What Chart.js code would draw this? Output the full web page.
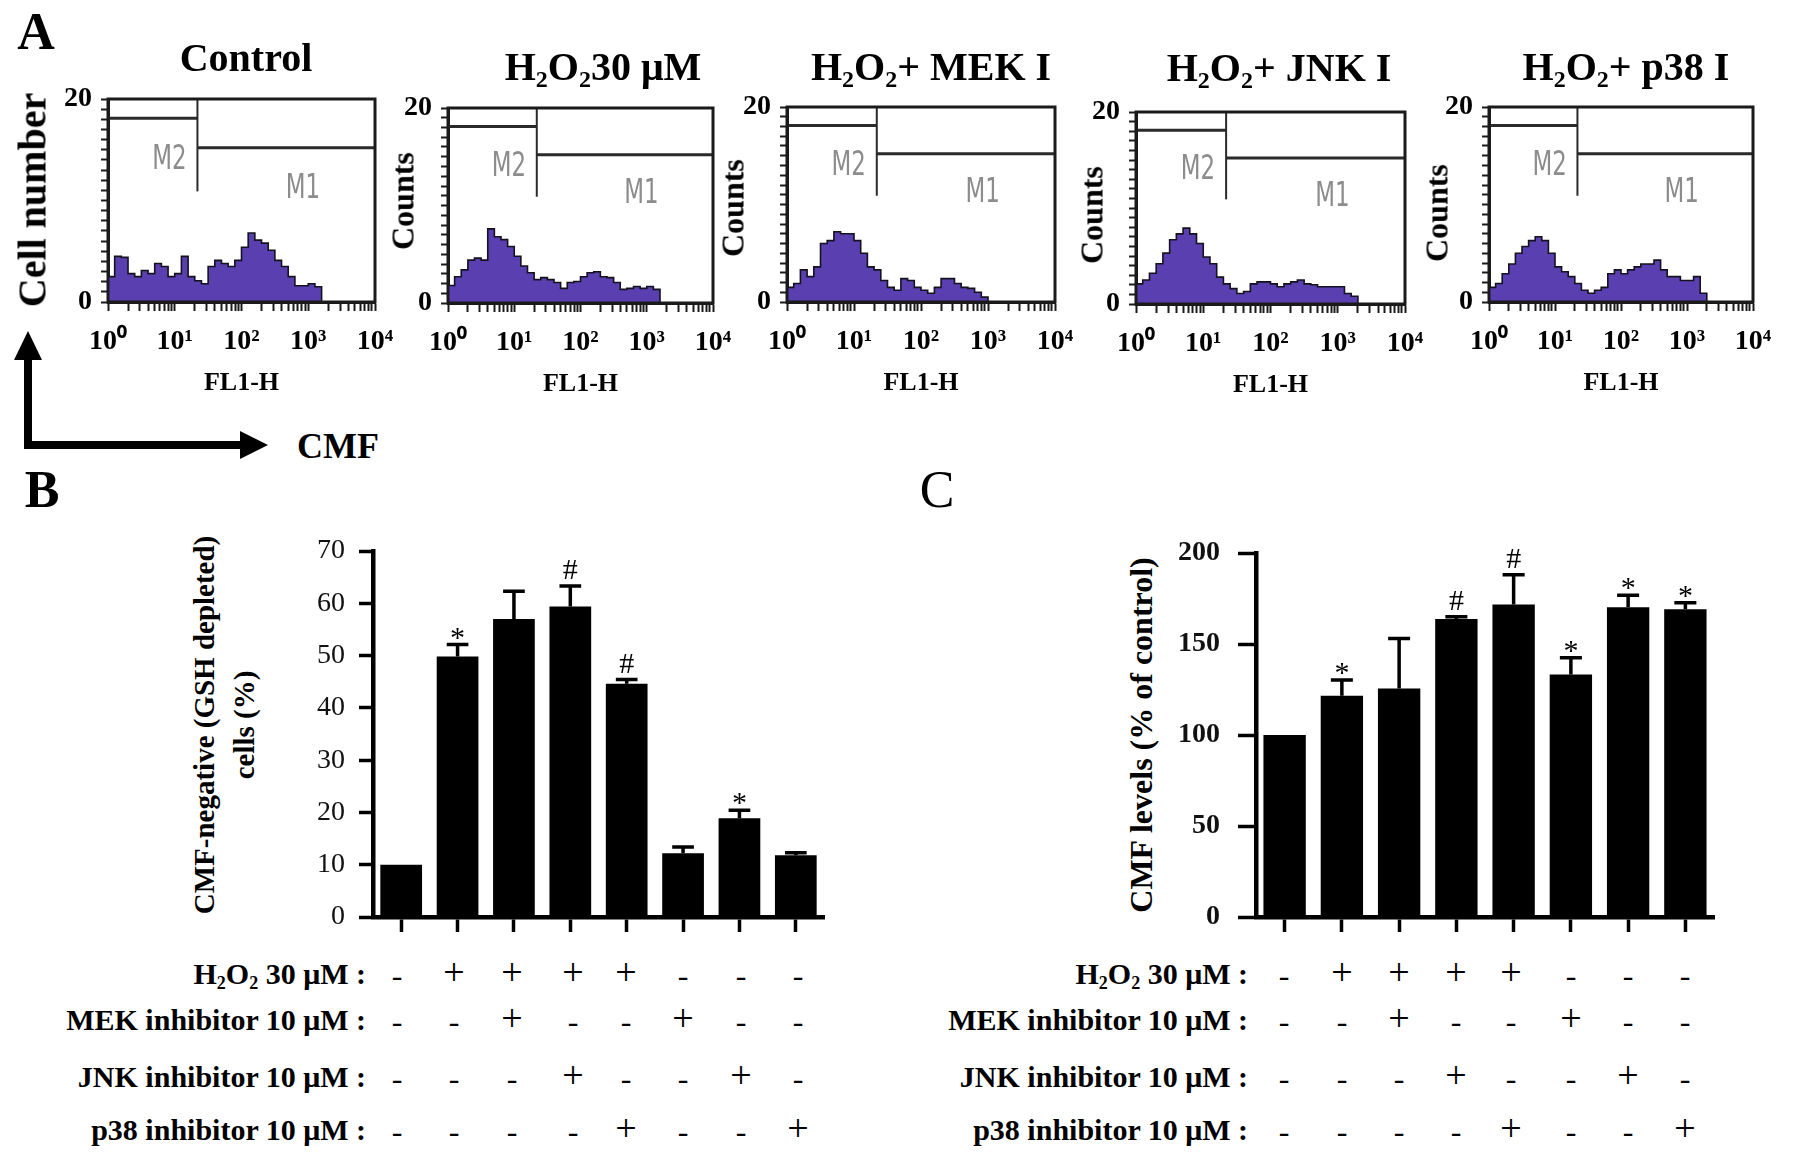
<!DOCTYPE html>
<html>
<head>
<meta charset="utf-8">
<script src="https://cdn.jsdelivr.net/npm/chart.js@4.4.1/dist/chart.umd.min.js"></script>
<style>
  html, body { margin:0; padding:0; background:#fff; }
  body { width:1795px; height:1162px; position:relative; overflow:hidden;
         font-family:"Liberation Serif","Times New Roman",serif; color:#000; }
  canvas { position:absolute; }
  .t { position:absolute; white-space:nowrap; line-height:1; }
  sub { font-size:0.6em; vertical-align:-0.3em; line-height:0; }
</style>
</head>
<body>
<svg style="position:absolute;left:0;top:0" width="300" height="470">
  <line x1="28" y1="352" x2="28" y2="449" stroke="#000" stroke-width="8"/>
  <polygon points="28,331 14,360 42,360" fill="#000"/>
  <line x1="24" y1="445" x2="244" y2="445" stroke="#000" stroke-width="8"/>
  <polygon points="268,445 240,431 240,459" fill="#000"/>
</svg>
<script>
// ---------------- DATA ----------------
// Panel A: flow-cytometry histograms (FL1-H, log decades 0..4, bins of 0.1 decade)
const binDecades = [0,0.1,0.2,0.3,0.4,0.5,0.6,0.7,0.8,0.9,1.0,1.1,1.2,1.3,1.4,1.5,1.6,1.7,1.8,1.9,2.0,
                    2.1,2.2,2.3,2.4,2.5,2.6,2.7,2.8,2.9,3.0,3.1,3.2,3.3,3.4,3.5,3.6,3.7,3.8,3.9,4.0];
const histControl = [1.5,2.5,4.5,4.4,2.8,2.5,3.1,2.8,3.8,3.5,2.5,2.8,4.5,2.5,2.1,1.8,3.5,4.1,3.8,3.5,4.1,
                     5.4,6.8,6.1,5.8,5.1,4.1,3.5,2.5,1.6,1.6,1.8,1.5,0,0,0,0,0,0,0,0];
const histH2O2    = [2.4,1.8,2.7,3.4,4.4,4.6,4.4,7.6,6.8,6.5,5.8,4.8,3.8,3.1,2.4,2.6,2.4,2.1,1.5,2.1,2.2,
                     2.7,3.1,3.2,2.7,2.6,2.1,1.4,1.5,1.7,1.5,1.7,1.4,0,0,0,0,0,0,0,0];
const histMEK     = [2.2,1.5,1.9,3.3,2.6,3.6,6.0,6.3,7.2,7.0,7.0,6.3,5.0,3.6,3.3,2.2,1.5,1.2,2.4,2.2,1.5,
                     1.2,0.9,1.5,2.4,2.4,1.9,1.5,1.4,1.0,0.5,0,0,0,0,0,0,0,0,0,0];
const histJNK     = [1.8,2.1,2.5,3.2,4.2,5.3,6.7,7.3,7.9,7.3,6.3,4.9,4.2,2.8,2.1,1.6,1.1,1.3,2.1,2.3,2.3,
                     2.1,1.8,2.1,2.3,2.5,2.1,2.0,1.8,1.8,1.8,1.8,1.1,0.8,0,0,0,0,0,0,0];
const histP38     = [1.2,1.5,1.9,2.9,3.9,5.0,5.7,6.3,6.7,6.3,5.0,3.6,3.1,2.6,1.9,1.2,0.9,1.2,1.5,2.9,3.3,
                     2.9,3.3,3.6,3.9,3.9,4.3,3.3,2.6,2.6,2.2,2.2,2.6,0.9,0,0,0,0,0,0,0];
const histTitles  = ['Control','H<sub>2</sub>O<sub>2</sub>30 μM','H<sub>2</sub>O<sub>2</sub>+ MEK I',
                     'H<sub>2</sub>O<sub>2</sub>+ JNK I','H<sub>2</sub>O<sub>2</sub>+ p38 I'];
const histYTitles = ['Cell number','Counts','Counts','Counts','Counts'];
const histDecadeTicks = ['10⁰','10¹','10²','10³','10⁴'];
const histYTickLabels = [0, 20];
// gate markers: [start decade, end decade, count level]
const gateM2 = [0, 1.34, 18.1];
const gateM1 = [1.34, 4, 15.2];
const gateDividerBottom = [10.9];
const gateNames = ['M2','M1'];

// Panels B and C: bar charts
const conditions = ['Control','H2O2','H2O2+MEK I','H2O2+JNK I','H2O2+p38 I','MEK I','JNK I','p38 I'];
const gshDepleted    = [10.0, 49.8, 57.0, 59.4, 44.6, 12.2, 18.9, 11.8];
const gshDepletedErr = [0,    2.3,  5.3,  3.9,  0.8,  1.2,  1.5,  0.5];
const gshMarks       = ['',  '*',  '',   '#',  '#',  '',   '*',  ''];
const gshTicks       = [0,10,20,30,40,50,60,70];
const cmfLevels      = [100, 121.6, 125.5, 163.8, 171.7, 133.3, 170.2, 169.1];
const cmfLevelsErr   = [0,   8.6,   27.5,  1.2,   16.3,  9.2,   6.6,   3.5];
const cmfMarks       = ['',  '*',   '',    '#',   '#',   '*',   '*',   '*'];
const cmfTicks       = [0,50,100,150,200];

// treatment table
const rowLabels = ['H<sub>2</sub>O<sub>2</sub> 30 μM :','MEK inhibitor 10 μM :','JNK inhibitor 10 μM :','p38 inhibitor 10 μM :'];
const rowH2O2 = ['-','+','+','+','+','-','-','-'];
const rowMEK  = ['-','-','+','-','-','+','-','-'];
const rowJNK  = ['-','-','-','+','-','-','+','-'];
const rowP38  = ['-','-','-','-','+','-','-','+'];

// ---------------- HELPERS ----------------
const SERIF = '"Liberation Serif","Times New Roman",serif';
function place(html, x, y, css, mode) {
  const d = document.createElement('div');
  d.className = 't';
  d.innerHTML = html;
  d.style.cssText += css;
  if (mode === 'right') {
    d.style.right = (1795 - x) + 'px'; d.style.top = y + 'px';
    d.style.transform = 'translateY(-50%)';
  } else if (mode === 'rot') {
    d.style.left = x + 'px'; d.style.top = y + 'px';
    d.style.transform = 'translate(-50%,-50%) rotate(-90deg)';
  } else {
    d.style.left = x + 'px'; d.style.top = y + 'px';
    d.style.transform = 'translate(-50%,-50%)';
  }
  document.body.appendChild(d);
  return d;
}
function makeCanvas(left, top, w, h) {
  const c = document.createElement('canvas');
  c.width = w; c.height = h;
  c.style.left = left + 'px'; c.style.top = top + 'px';
  c.style.width = w + 'px'; c.style.height = h + 'px';
  document.body.appendChild(c);
  return c;
}

// panel letters
place('A', 36, 31, 'font:bold 52px ' + SERIF + ';');
place('B', 42, 489, 'font:bold 52px ' + SERIF + ';');
place('C', 937, 489, 'font:52px ' + SERIF + ';');
place('CMF', 338, 446, 'font:bold 36px ' + SERIF + ';');

// ---------------- PANEL A ----------------
const histSets = [histControl, histH2O2, histMEK, histJNK, histP38];
const plotBoxes = [[108,99,375,302],[448,108,713,303],[787,107,1055,302],[1136,112,1405,304],[1489,107,1753,302]];
const titleY = [57,66,66,67,66];
const yTitleX = [32,403,733,1092,1437];
const yTitleY = [200,201,208,215,213];

const logTickPositions = [];
for (let d = 0; d <= 4; d++) {
  logTickPositions.push(d);
  if (d < 4) for (let k = 2; k <= 9; k++) logTickPositions.push(d + Math.log10(k));
}

const framePlugin = {
  id: 'frame',
  afterDraw(chart) {
    const {ctx, chartArea: a} = chart;
    ctx.save();
    ctx.strokeStyle = '#1a1a1a'; ctx.lineWidth = 3;
    ctx.strokeRect(a.left, a.top, a.right - a.left, a.bottom - a.top);
    ctx.restore();
  }
};
const gatePlugin = {
  id: 'gates',
  afterDatasetsDraw(chart) {
    const {ctx} = chart, xs = chart.scales.x, ys = chart.scales.y;
    ctx.save();
    ctx.strokeStyle = '#2a2a2a'; ctx.lineWidth = 3;
    ctx.beginPath();
    ctx.moveTo(xs.getPixelForValue(gateM2[0]), ys.getPixelForValue(gateM2[2]));
    ctx.lineTo(xs.getPixelForValue(gateM2[1]), ys.getPixelForValue(gateM2[2]));
    ctx.moveTo(xs.getPixelForValue(gateM1[0]), ys.getPixelForValue(gateM1[2]));
    ctx.lineTo(xs.getPixelForValue(gateM1[1]), ys.getPixelForValue(gateM1[2]));
    ctx.stroke();
    ctx.lineWidth = 2;
    ctx.beginPath();
    ctx.moveTo(xs.getPixelForValue(gateM2[1]), ys.getPixelForValue(20));
    ctx.lineTo(xs.getPixelForValue(gateM2[1]), ys.getPixelForValue(gateDividerBottom[0]));
    ctx.stroke();
    ctx.fillStyle = '#8c8c8c';
    ctx.font = '30px "Liberation Sans Narrow","DejaVu Sans Condensed","Liberation Sans",sans-serif';
    ctx.textAlign = 'center'; ctx.textBaseline = 'middle';
    ctx.save();
    ctx.translate(xs.getPixelForValue(0.92), ys.getPixelForValue(13.9));
    ctx.scale(0.85, 1.1);
    ctx.fillText(gateNames[0], 0, 0);
    ctx.restore();
    ctx.save();
    ctx.translate(xs.getPixelForValue(2.92), ys.getPixelForValue(11.1));
    ctx.scale(0.85, 1.1);
    ctx.fillText(gateNames[1], 0, 0);
    ctx.restore();
    ctx.restore();
  }
};

const AX_L = 80, PAD_T = 20, PAD_R = 34, AX_B = 70;
histSets.forEach((counts, i) => {
  const [L, T, R, B] = plotBoxes[i];
  const w = (R - L) + AX_L + PAD_R, h = (B - T) + PAD_T + AX_B;
  const cv = makeCanvas(L - AX_L, T - PAD_T, w, h);
  new Chart(cv, {
    type: 'line',
    data: { datasets: [{
      data: binDecades.map((b, j) => ({x: b, y: counts[j]})),
      stepped: 'after', fill: 'origin',
      backgroundColor: '#5a3fb0', borderColor: '#15121f', borderWidth: 1.6,
      pointRadius: 0
    }]},
    options: {
      responsive: false, animation: false,
      layout: { padding: { top: PAD_T, right: PAD_R, left: 0, bottom: 0 } },
      plugins: { legend: { display: false }, tooltip: { enabled: false } },
      scales: {
        x: {
          type: 'linear', min: 0, max: 4,
          afterBuildTicks: s => { s.ticks = logTickPositions.map(v => ({value: v})); },
          afterFit: s => { s.height = AX_B; s.paddingLeft = 0; s.paddingRight = 0; },
          ticks: { autoSkip: false, maxRotation: 0, minRotation: 0, padding: 14, color: '#000',
                   font: { family: SERIF, size: 28, weight: 'bold' },
                   callback: v => (Math.abs(v - Math.round(v)) < 1e-9 ? histDecadeTicks[Math.round(v)] : '') },
          grid: { drawOnChartArea: false, tickLength: 9, tickWidth: 2, tickColor: '#1a1a1a' },
          border: { width: 3, color: '#1a1a1a' }
        },
        y: {
          min: 0, max: 20,
          afterFit: s => { s.width = AX_L; s.paddingTop = 0; s.paddingBottom = 0; },
          ticks: { stepSize: 1, autoSkip: false, padding: 9, color: '#000',
                   font: { family: SERIF, size: 28, weight: 'bold' },
                   callback: v => (histYTickLabels.includes(v) ? String(v) : '') },
          grid: { drawOnChartArea: false, tickLength: 7, tickWidth: 2, tickColor: '#1a1a1a' },
          border: { width: 3, color: '#1a1a1a' }
        }
      }
    },
    plugins: [framePlugin, gatePlugin]
  });
  place(histTitles[i], [246,603,931,1279,1626][i], titleY[i], 'font:bold 40px ' + SERIF + ';');
  place(histYTitles[i], yTitleX[i], yTitleY[i], 'font:bold ' + (i === 0 ? 40 : 32) + 'px ' + SERIF + ';', 'rot');
  place('FL1-H', (L + R) / 2, B + 80, 'font:bold 26px ' + SERIF + ';');
});

// ---------------- PANELS B, C ----------------
function errorPlugin(errs, marks) {
  return {
    id: 'errbars',
    afterDatasetsDraw(chart) {
      const {ctx} = chart, ys = chart.scales.y;
      const meta = chart.getDatasetMeta(0);
      const vals = chart.data.datasets[0].data;
      ctx.save();
      ctx.strokeStyle = '#000'; ctx.lineWidth = 3.5;
      meta.data.forEach((bar, i) => {
        const topY = ys.getPixelForValue(vals[i] + errs[i]);
        if (errs[i] > 0) {
          const cap = bar.width * 0.26;
          ctx.beginPath();
          ctx.moveTo(bar.x, bar.y); ctx.lineTo(bar.x, topY);
          ctx.moveTo(bar.x - cap, topY); ctx.lineTo(bar.x + cap, topY);
          ctx.stroke();
        }
        if (marks[i]) {
          ctx.fillStyle = '#000';
          ctx.font = '30px ' + SERIF;
          ctx.textAlign = 'center'; ctx.textBaseline = 'alphabetic';
          ctx.fillText(marks[i], bar.x, topY - (marks[i] === '*' ? -2 : 7));
        }
      });
      ctx.restore();
    }
  };
}

function makeBar(cfg) {
  const {area, canvasLeft, canvasTop, values, errs, marks, ticks, tickFont, yTickLen, yTickPad, barPct} = cfg;
  const [L, T, R, B] = area;
  const axW = L - canvasLeft, padT = T - canvasTop, padR = 20, axH = 30;
  const cv = makeCanvas(canvasLeft, canvasTop, (R - canvasLeft) + padR, (B - canvasTop) + axH);
  new Chart(cv, {
    type: 'bar',
    data: { labels: conditions, datasets: [{ data: values, backgroundColor: '#000', borderWidth: 0,
            barPercentage: barPct, categoryPercentage: 1 }] },
    options: {
      responsive: false, animation: false,
      layout: { padding: { top: padT, right: padR, left: 0, bottom: 0 } },
      plugins: { legend: { display: false }, tooltip: { enabled: false } },
      scales: {
        x: {
          afterFit: s => { s.height = axH; s.paddingLeft = 0; s.paddingRight = 0; },
          ticks: { display: false },
          grid: { offset: false, drawOnChartArea: false, tickLength: 15, tickWidth: 3.5, tickColor: '#000' },
          border: { width: 4.5, color: '#000' }
        },
        y: {
          min: ticks[0], max: ticks[ticks.length - 1],
          afterBuildTicks: s => { s.ticks = ticks.map(v => ({value: v})); },
          afterFit: s => { s.width = axW; s.paddingTop = 0; s.paddingBottom = 0; },
          ticks: { padding: yTickPad, color: '#111', font: tickFont },
          grid: { drawOnChartArea: false, tickLength: yTickLen, tickWidth: 3.5, tickColor: '#000' },
          border: { width: 4.5, color: '#000' }
        }
      }
    },
    plugins: [errorPlugin(errs, marks)]
  });
}

makeBar({ area: [373, 551, 824, 917], canvasLeft: 290, canvasTop: 520,
          values: gshDepleted, errs: gshDepletedErr, marks: gshMarks, ticks: gshTicks,
          tickFont: { family: SERIF, size: 28 }, yTickLen: 14, yTickPad: 14, barPct: 0.74 });
makeBar({ area: [1256, 553, 1714, 917], canvasLeft: 1166, canvasTop: 520,
          values: cmfLevels, errs: cmfLevelsErr, marks: cmfMarks, ticks: cmfTicks,
          tickFont: { family: SERIF, size: 28, weight: 'bold' }, yTickLen: 18, yTickPad: 18, barPct: 0.74 });

place('CMF-negative (GSH depleted)', 204, 725, 'font:bold 29px ' + SERIF + ';', 'rot');
place('cells (%)', 244, 725, 'font:bold 29px ' + SERIF + ';', 'rot');
place('CMF levels (% of control)', 1141, 735, 'font:bold 32px ' + SERIF + ';', 'rot');

// ---------------- TABLES ----------------
const rows = [rowH2O2, rowMEK, rowJNK, rowP38];
const rowY = [974, 1020, 1077, 1130];
const tables = [
  { labelRight: 366, cols: [397,454,512,573,626,683,741,798] },
  { labelRight: 1248, cols: [1284,1342,1399,1456,1511,1571,1628,1685] }
];
tables.forEach(tb => {
  rows.forEach((row, r) => {
    place(rowLabels[r], tb.labelRight, rowY[r], 'font:bold 30px ' + SERIF + ';', 'right');
    row.forEach((sgn, c) => {
      place(sgn, tb.cols[c], rowY[r] + (sgn === '-' ? 1 : -2), 'font:' + (sgn === '+' ? 38 : 32) + 'px ' + SERIF + ';');
    });
  });
});
</script>
</body>
</html>
